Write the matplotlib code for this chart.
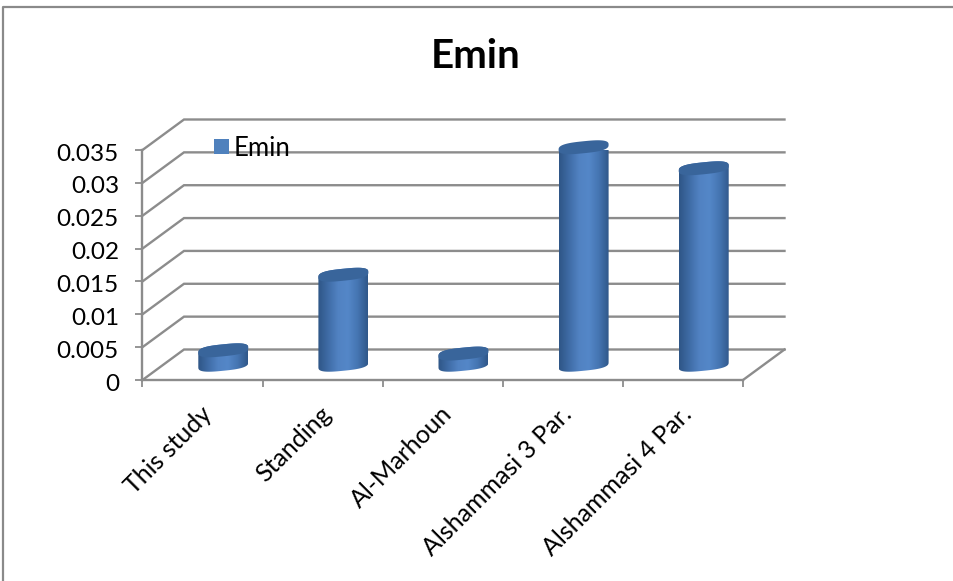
import numpy as np
import matplotlib
matplotlib.use("Agg")
import matplotlib.pyplot as plt
from matplotlib.colors import LinearSegmentedColormap
from matplotlib.lines import Line2D
from matplotlib.patches import PathPatch, Rectangle
from matplotlib.path import Path
from matplotlib.transforms import IdentityTransform, ScaledTranslation

categories = ["This study", "Standing", "Al-Marhoun", "Alshammasi 3 Par.", "Alshammasi 4 Par."]
emin = [0.0022, 0.0137, 0.0017, 0.0331, 0.0299]
y_ticks = [0, 0.005, 0.01, 0.015, 0.02, 0.025, 0.03, 0.035]
y_labels = ["0", "0.005", "0.01", "0.015", "0.02", "0.025", "0.03", "0.035"]

plt.rcParams["font.family"] = ["Lato", "DejaVu Sans"]

W, H = 954, 581
GREY = "#8c8c8c"
# depth of the floor in pixels, bars stand half way back
DEPTH_X, DEPTH_Y = 41.5, 30.5
RX, RY, TILT = 25.0, 6.0, 2.5

fig = plt.figure(figsize=(W / 100, H / 100), dpi=100)
ax = fig.add_axes([142.5 / W, (H - 380) / H, 600.5 / W, 230 / H])
ax.set_xlim(0, 5)
ax.set_ylim(0, 0.035)
ax.patch.set_visible(False)


def px(x, y, depth=0.0):
    p = ax.transData.transform((x, y))
    return p[0] + DEPTH_X * depth, p[1] + DEPTH_Y * depth


def pxline(points, **kw):
    xs, ys = zip(*points)
    ax.add_line(Line2D(xs, ys, transform=IdentityTransform(), clip_on=False, **kw))


def arc(cx, cy, t0, t1, n=40):
    # slightly squared ellipse so the cylinder rims stay round at the sides
    t = np.linspace(t0, t1, n)
    c = np.sign(np.cos(t)) * np.abs(np.cos(t)) ** 0.7
    s = np.sign(np.sin(t)) * np.abs(np.sin(t)) ** 0.7
    return np.column_stack([cx + RX * c, cy + TILT * c + RY * s])


# walls and floor
for v in y_ticks:
    pxline([px(0, v), px(0, v, 1), px(5, v, 1)], color=GREY, lw=1.7, zorder=1,
           solid_joinstyle="miter")
pxline([px(5, 0), px(5, 0, 1)], color=GREY, lw=1.7, zorder=1)

# cylinders
shade = LinearSegmentedColormap.from_list(
    "cyl", ["#2f5687", "#3f6ca6", "#5182c2", "#5487c8", "#4575b2", "#30588a"])
for i, v in enumerate(emin):
    bx, by = px(i + 0.5, 0, 0.5)
    tx, ty = px(i + 0.5, v, 0.5)
    lower = arc(bx, by, np.pi, 2 * np.pi)
    upper = arc(tx, ty, 0, np.pi)
    verts = np.vstack([lower, upper, lower[:1]])
    body = Path(verts)
    x0 = ax.transData.inverted().transform((bx - RX, by))[0]
    x1 = ax.transData.inverted().transform((bx + RX, by))[0]
    y0 = ax.transData.inverted().transform((bx, by - 12))[1]
    y1 = ax.transData.inverted().transform((bx, ty + 12))[1]
    im = ax.imshow(np.linspace(0, 1, 64)[None, :], cmap=shade, aspect="auto",
                   extent=[x0, x1, y0, y1], interpolation="bilinear", zorder=3)
    im.set_clip_path(PathPatch(body, transform=IdentityTransform()))
    cap = Path(arc(tx, ty, 0, 2 * np.pi, 80))
    ax.add_patch(PathPatch(cap, transform=IdentityTransform(), facecolor="#39659b",
                           edgecolor="none", zorder=4, clip_on=False))
ax.set_xlim(0, 5)
ax.set_ylim(0, 0.035)

# axes
for side in ["top", "right"]:
    ax.spines[side].set_visible(False)
for side in ["left", "bottom"]:
    ax.spines[side].set_color(GREY)
    ax.spines[side].set_linewidth(1.7)
ax.set_yticks(y_ticks, y_labels)
ax.set_xticks(range(6), [""] * 6)
ax.tick_params(axis="both", which="major", color=GREY, width=1.3, length=5)
ax.tick_params(axis="y", labelsize=17.5, pad=12)
nudge = ScaledTranslation(0, -1.5 / 72, fig.dpi_scale_trans)
for lab in ax.get_yticklabels():
    lab.set_transform(lab.get_transform() + nudge)

# category names sit under the middle of each slot
for i, name in enumerate(categories):
    ax.annotate(name, (i + 0.5, 0), xytext=(-2, -16), textcoords="offset points",
                rotation=45, rotation_mode="anchor", ha="right", va="top", fontsize=18)

fig.text(476 / W, 1 - 57 / H, "Emin", fontsize=29, fontweight="bold", ha="center", va="center")

# legend
fig.add_artist(Rectangle((214 / W, 1 - 154 / H), 15 / W, 15 / H, transform=fig.transFigure,
                         facecolor="#4f81bd", edgecolor="none"))
fig.text(234 / W, 1 - 148 / H, "Emin", fontsize=18.5, ha="left", va="center")

# outer frame
fig.add_artist(Line2D([3.5 / W, 3.5 / W, 1], [0, 1 - 6.5 / H, 1 - 6.5 / H],
                      transform=fig.transFigure, color="#8a8a8a", lw=1.6))

fig.savefig("out.png", dpi=100)
